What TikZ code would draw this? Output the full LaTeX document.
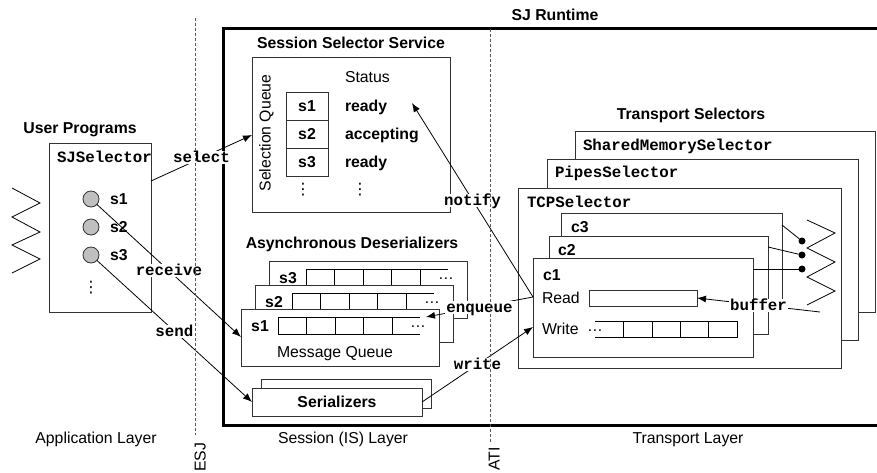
\documentclass[tikz,border=0pt]{standalone}
\usepackage{fontspec}
\setmainfont{Liberation Sans}
\setmonofont{Liberation Mono}
\newfontfamily\djv{DejaVu Sans}
\usetikzlibrary{arrows.meta,calc}
\tikzset{
  every node/.style={inner sep=0pt, outer sep=0pt},
  bx/.style={draw=black!80, fill=white, line width=0.9pt, anchor=north west, inner sep=0pt, outer sep=0pt},
  txt/.style={font=\fontsize{15.8}{18}\selectfont, text height=11pt, text depth=0pt},
  ttl/.style={font=\fontsize{15.8}{18}\selectfont\bfseries, text height=11pt, text depth=0pt},
  code/.style={font=\fontsize{15.8}{18}\selectfont\ttfamily\bfseries, text height=10pt, text depth=0pt},
  lbl/.style={code, fill=white, inner sep=1.5pt},
  ln/.style={line width=0.8pt},
  arr/.style={ln, -{Latex[length=9pt,width=7pt]}},
  sock/.style={circle, draw=black!80, fill=black!25, minimum size=16pt, line width=0.8pt},
  cdot/.style={circle, fill=black, minimum size=7pt},
  vd/.style={font=\djv\fontsize{15.8}{18}\selectfont},
  layerline/.style={draw=black!65, dash pattern=on 3pt off 2pt, line width=1pt},
  frame/.style={line width=3pt},
}
\begin{document}
\begin{tikzpicture}[x=1pt,y=-1pt]
\useasboundingbox (0,0) rectangle (877,473);

% ---- SJ Runtime frame
\draw[frame] (877,29) -- (223,29) -- (223,425) -- (877,425);
\node[ttl] (rt) at (555,15) {SJ Runtime};

% ---- layer captions
\node[txt] (appl) at (96,438) {Application Layer};
\node[txt] (sessl) at (343,438) {Session (IS) Layer};
\node[txt] (transl) at (688,438) {Transport Layer};

% ---- User programs
\node[ttl] (up) at (80,128) {User Programs};
\node[bx, minimum width=102pt, minimum height=169pt] (sjsel) at (49,143) {};
\node[code, anchor=west] (sjselt) at (57,158) {SJSelector};
\node[sock] (sk1) at (91,199) {};
\node[sock] (sk2) at (91,227) {};
\node[sock] (sk3) at (91,255) {};
\node[ttl, anchor=west] (sk1t) at (110,199) {s1};
\node[ttl, anchor=west] (sk2t) at (110,227) {s2};
\node[ttl, anchor=west] (sk3t) at (110,255) {s3};
\node[vd] (skdots) at (91,288) {⋮};
\draw[ln] (12,188) -- (40,203) -- (12,217) -- (40,232) -- (12,245) -- (40,259) -- (12,273);

% ---- Session selector service
\node[ttl] (sssT) at (351,43) {Session Selector Service};
\node[bx, minimum width=198pt, minimum height=155pt] (ssq) at (252,57) {};
\node[txt, rotate=90] (sqlab) at (265,133) {Selection Queue};
\node[txt, anchor=west] (stat) at (345,77) {Status};
\node[bx, minimum width=42pt, minimum height=28pt] (q1) at (286,92) {};
\node[bx, minimum width=42pt, minimum height=28pt] (q2) at (286,120) {};
\node[bx, minimum width=42pt, minimum height=28pt] (q3) at (286,148) {};
\node[ttl] at (q1.center) {s1};
\node[ttl] at (q2.center) {s2};
\node[ttl] at (q3.center) {s3};
\node[ttl, anchor=west] (st1) at (345,106) {ready};
\node[ttl, anchor=west] (st2) at (345,134) {accepting};
\node[ttl, anchor=west] (st3) at (345,162) {ready};
\node[vd] (qdots) at (303,190) {⋮};
\node[vd] (sdots) at (360,190) {⋮};

% ---- Asynchronous deserializers
\node[ttl] (adT) at (352,243) {Asynchronous Deserializers};
\foreach \i/\L/\T in {3/269/261, 2/255/285, 1/241/309} {
  \node[bx, minimum width=198pt, minimum height=57pt] (m\i) at (\L,\T) {};
  \node[ttl] at (\L+19,\T+17) {s\i};
  \draw[ln] (\L+179,\T+8) -- (\L+37,\T+8) -- (\L+37,\T+25) -- (\L+179,\T+25);
  \foreach \d in {65.5,94,122.5,151} { \draw[ln] (\L+\d,\T+8) -- (\L+\d,\T+25); }
  \node[txt, anchor=base, text height=, text depth=] at (\L+177,\T+18.5) {…};
}
\node[txt] (mq) at (335,352) {Message Queue};

% ---- Serializers
\node[bx, minimum width=170pt, minimum height=29pt] (serb) at (261,379) {};
\node[bx, minimum width=170pt, minimum height=28pt] (ser) at (252,388) {};
\node[ttl] at (ser.center) {Serializers};

% ---- Transport selectors
\node[ttl] (tsT) at (691,114) {Transport Selectors};
\node[bx, minimum width=300pt, minimum height=181pt] (smsel) at (575,131) {};
\node[code, anchor=west] at (583,146) {SharedMemorySelector};
\node[bx, minimum width=311pt, minimum height=181pt] (psel) at (547,159) {};
\node[code, anchor=west] at (555,173) {PipesSelector};
\node[bx, minimum width=323pt, minimum height=180pt] (tsel) at (518,188) {};
\node[code, anchor=west] at (527,202) {TCPSelector};

\node[bx, minimum width=221pt, minimum height=98pt] (c3) at (561,213) {};
\node[ttl, anchor=west] at (571,227) {c3};
\node[bx, minimum width=219pt, minimum height=98pt] (c2) at (549,236) {};
\node[ttl, anchor=west] at (558,250) {c2};
\node[bx, minimum width=220pt, minimum height=99pt] (c1) at (533,258) {};
\node[ttl, anchor=west] at (543,275) {c1};
\node[txt, anchor=west] (readt) at (542,298) {Read};
\node[txt, anchor=west] (writet) at (542,329) {Write};
\node[bx, minimum width=108pt, minimum height=16pt] (rbuf) at (589,290) {};
\draw[ln] (595,321) -- (737,321) -- (737,337) -- (595,337);
\foreach \d in {623,652,680,708} { \draw[ln] (\d,321) -- (\d,337); }
\node[txt, anchor=base, text height=, text depth=] (wdots) at (595,331.5) {…};

% connection end points and wire
\node[cdot] (d1) at (802,241) {};
\node[cdot] (d2) at (802,255) {};
\node[cdot] (d3) at (802,269) {};
\draw[ln] ($(c3.north east)+(0,12)$) -- (d1);
\draw[ln] ($(c2.north east)+(0,11)$) -- (d2);
\draw[ln] ($(c1.north east)+(0,11)$) -- (d3);
\draw[ln] (807,220) -- (835,233) -- (807,248) -- (835,262) -- (807,277) -- (835,291) -- (807,305);

% ---- arrows
\coordinate (notifytip) at (412,103);
\coordinate (enqtip) at ($(m1.north west)+(185,8)$);
\coordinate (bufsrc) at (820,312);
\draw[arr] ($(sjsel.north east)+(0,38)$) -- node[lbl]{select} ($(ssq.north west)+(0,78)$);
\draw[arr] (sk1) -- node[lbl]{receive} ($(m1.north west)+(0,28)$);
\draw[arr] (sk3) -- node[lbl]{send} ($(ser.north west)+(0,14)$);
\draw[arr] ($(c1.north west)+(0,39)$) -- node[lbl]{notify} (notifytip);
\draw[arr] ($(c1.north west)+(0,39)$) -- node[lbl]{enqueue} (enqtip);
\draw[arr] ($(ser.north east)+(0,14)$) -- node[lbl]{write} ($(c1.north west)+(0,69)$);
\draw[arr] (bufsrc) -- node[lbl]{buffer} (rbuf.east);

% ---- interface lines
\draw[layerline] (195,18) -- (195,435);
\draw[layerline] (490,29) -- (490,442);
\node[txt, rotate=90] (esj) at (200,457.5) {ESJ};
\node[txt, rotate=90] (ati) at (494,459) {ATI};
\end{tikzpicture}
\end{document}
